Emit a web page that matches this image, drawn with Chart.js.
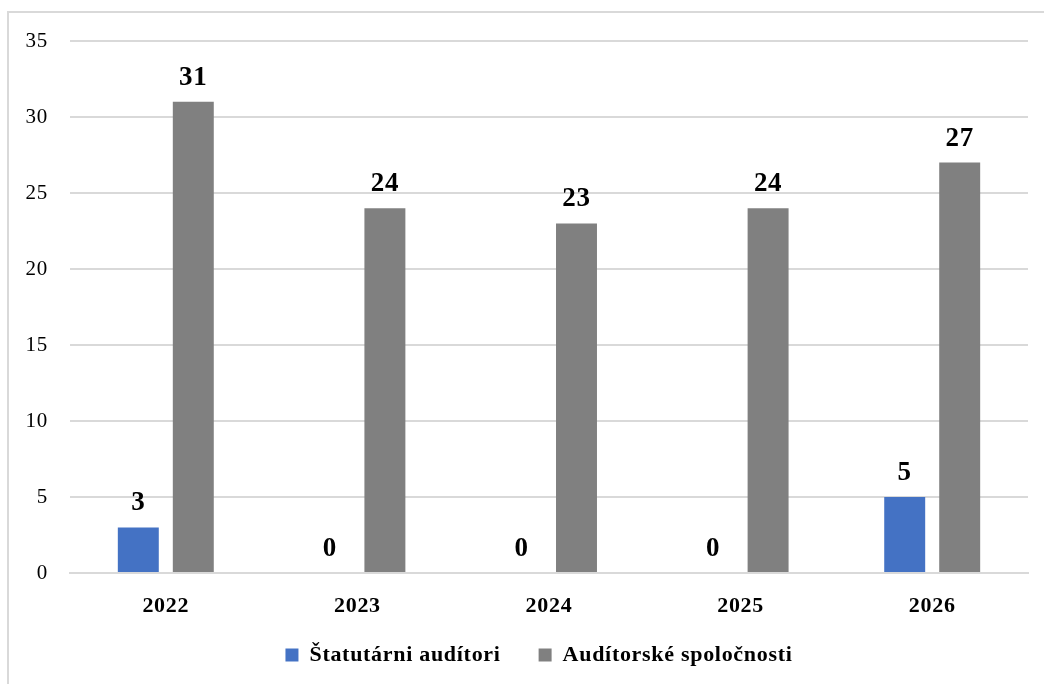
<!DOCTYPE html>
<html>
<head>
<meta charset="utf-8">
<script src="https://cdn.jsdelivr.net/npm/chart.js@4.4.1/dist/chart.umd.min.js"></script>
<style>
  html, body { margin: 0; padding: 0; background: #ffffff; }
  #wrap { position: relative; width: 1044px; height: 684px; }
</style>
</head>
<body>
<div id="wrap"><canvas id="c" width="1044" height="684"></canvas></div>
<script>
const categories = ['2022', '2023', '2024', '2025', '2026'];
const seriesNames = ['Štatutárni audítori', 'Audítorské spoločnosti'];
const statutarni = [3, 0, 0, 0, 5];
const spolocnosti = [31, 24, 23, 24, 27];
const yTicks = [0, 5, 10, 15, 20, 25, 30, 35];

const SERIF = '"Liberation Serif", "Times New Roman", serif';
const SPACING = '0.7px';

const spacing = {
  id: 'spacing',
  beforeUpdate(chart) { chart.ctx.letterSpacing = SPACING; },
  beforeLayout(chart) { chart.ctx.letterSpacing = SPACING; },
  afterLayout(chart) {
    const lg = chart.legend;
    if (lg) {
      lg.left += 25; lg.right += 25;
      lg.top -= 30; lg.bottom -= 30;
    }
  },
  beforeDraw(chart) { chart.ctx.letterSpacing = SPACING; }
};

const frame = {
  id: 'frame',
  beforeDraw(chart) {
    const ctx = chart.ctx;
    ctx.save();
    ctx.fillStyle = '#ffffff';
    ctx.fillRect(0, 0, chart.width, chart.height);
    ctx.strokeStyle = '#d9d9d9';
    ctx.lineWidth = 2;
    ctx.strokeRect(8, 12, chart.width + 20, chart.height + 20);
    ctx.restore();
  }
};

const valueLabels = {
  id: 'valueLabels',
  afterDatasetsDraw(chart) {
    const ctx = chart.ctx;
    ctx.save();
    ctx.letterSpacing = SPACING;
    ctx.font = 'bold 27px ' + SERIF;
    ctx.fillStyle = '#000000';
    ctx.textAlign = 'center';
    ctx.textBaseline = 'alphabetic';
    chart.data.datasets.forEach((ds, i) => {
      const meta = chart.getDatasetMeta(i);
      meta.data.forEach((bar, j) => {
        ctx.fillText(String(ds.data[j]), bar.x, bar.y - 17);
      });
    });
    ctx.restore();
  }
};

new Chart(document.getElementById('c'), {
  type: 'bar',
  data: {
    labels: categories,
    datasets: [
      { label: seriesNames[0], data: statutarni, backgroundColor: '#4472C4', borderWidth: 0 },
      { label: seriesNames[1], data: spolocnosti, backgroundColor: '#808080', borderWidth: 0 }
    ]
  },
  options: {
    responsive: false,
    animation: false,
    devicePixelRatio: 1,
    layout: { padding: { left: 0, right: 16, top: 41, bottom: -22 } },
    datasets: { bar: { categoryPercentage: 0.574, barPercentage: 0.745 } },
    plugins: {
      legend: {
        position: 'bottom',
        labels: {
          boxWidth: 13,
          boxHeight: 13,
          padding: 38,
          color: '#000000',
          font: { family: SERIF, size: 22, weight: 'bold' }
        }
      },
      tooltip: { enabled: false }
    },
    scales: {
      x: {
        grid: { display: false, drawTicks: false },
        border: { display: true, color: '#d9d9d9', width: 2 },
        ticks: { color: '#000000', padding: 20, font: { family: SERIF, size: 22, weight: 'bold' } },
        afterFit(scale) { scale.height = 63; }
      },
      y: {
        min: 0,
        max: 35,
        afterBuildTicks(scale) { scale.ticks = yTicks.map(v => ({ value: v })); },
        grid: { color: '#d9d9d9', lineWidth: 2, drawTicks: false },
        border: { display: false },
        ticks: { color: '#000000', padding: 22, font: { family: SERIF, size: 21 } },
        afterFit(scale) { scale.width = 70; }
      }
    }
  },
  plugins: [spacing, frame, valueLabels]
});
</script>
</body>
</html>
